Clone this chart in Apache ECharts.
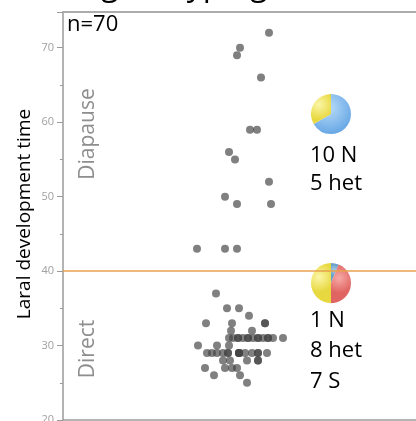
<!DOCTYPE html>
<html>
<head>
<meta charset="utf-8">
<script src="https://cdn.jsdelivr.net/npm/echarts@6/dist/echarts.min.js"></script>
<style>html,body{margin:0;padding:0;background:#fff}#c{width:416px;height:421px}</style>
</head>
<body>
<div id="c"></div>
<script>
// ---- data ----
var diapauseX = [206, 177, 174, 198, 187, 194, 166, 172, 206, 162, 174, 208, 134, 162, 174];
var diapauseY = [72, 70, 69, 66, 59, 59, 56, 55, 52, 50, 49, 49, 43, 43, 43];
var directX = [153, 164, 176, 186, 143, 169, 202, 202, 168, 189,
  166, 170, 175, 175, 180, 185, 185, 190, 195, 195, 200, 205, 205, 210, 220,
  135, 154, 166,
  144, 149, 154, 160, 165, 165, 176, 176, 176, 176, 182, 189, 195, 195, 204,
  160, 167, 184, 195, 195,
  142, 162, 169, 174,
  151, 177,
  184];
var directY = [37, 35, 35, 34, 33, 33, 33, 33, 32, 32,
  31, 31, 31, 31, 31, 31, 31, 31, 31, 31, 31, 31, 31, 31, 31,
  30, 30, 30,
  29, 29, 29, 29, 29, 29, 29, 29, 29, 29, 29, 29, 29, 29, 29,
  28, 28, 28, 28, 28,
  27, 27, 27, 27,
  26, 26,
  25];
var yTicks = [20, 30, 40, 50, 60, 70];
var threshold = 40;
var nTotal = 70;
var pie1Names = ['N', 'het'];
var pie1Values = [10, 5];
var pie2Names = ['N', 'S', 'het'];
var pie2Values = [1, 7, 8];

// ---- build ----
var pts = [];
diapauseX.forEach(function (x, i) { pts.push([x, diapauseY[i]]); });
directX.forEach(function (x, i) { pts.push([x, directY[i]]); });

function rg(c1, c2) {
  return new echarts.graphic.RadialGradient(0.4, 0.35, 0.75, [
    { offset: 0, color: c1 }, { offset: 1, color: c2 }]);
}
var colBlue = rg('#b8dbf8', '#62a4e4');
var colYellow = rg('#fbf6a8', '#e8d840');
var colRed = rg('#f6aaa7', '#e06562');
var colBlue2 = rg('#a8cce6', '#6a9fc8');

var FONT = '"Open Sans", sans-serif';
var chart = echarts.init(document.getElementById('c'), null, { renderer: 'canvas' });
chart.setOption({
  animation: false,
  backgroundColor: '#fff',
  grid: { left: 63, right: 0, top: 12, bottom: 1, containLabel: false, outerBoundsMode: 'none' },
  xAxis: [
    { type: 'value', min: 0, max: 353, position: 'bottom',
      axisLine: { show: true, lineStyle: { color: '#9a9a9a', width: 1.5 } },
      axisTick: { show: false }, axisLabel: { show: false }, splitLine: { show: false } },
    { type: 'value', min: 0, max: 1, position: 'top',
      axisLine: { show: true, onZero: false, lineStyle: { color: '#acacac', width: 2 } },
      axisTick: { show: false }, axisLabel: { show: false }, splitLine: { show: false } }
  ],
  yAxis: [
    { type: 'value', min: yTicks[0], max: 74.8, interval: 10, position: 'left',
      axisLine: { show: true, lineStyle: { color: '#9a9a9a', width: 1.5 } },
      axisTick: { show: true, length: 6, lineStyle: { color: '#9a9a9a' } },
      axisLabel: { color: '#a0a0a0', fontSize: 11, fontFamily: FONT, margin: 9,
        formatter: function (v) { return yTicks.indexOf(v) >= 0 ? String(v) : ''; } },
      splitLine: { show: false } },
    { type: 'value', min: yTicks[0], max: 74.8, interval: 5, position: 'left',
      axisLine: { show: false },
      axisTick: { show: true, length: 3, lineStyle: { color: '#9a9a9a' } },
      axisLabel: { show: false }, splitLine: { show: false } }
  ],
  series: [
    { type: 'scatter', xAxisIndex: 0, yAxisIndex: 0, data: pts, symbolSize: 8,
      itemStyle: { color: '#444444', opacity: 0.68 },
      silent: true,
      markLine: { silent: true, symbol: 'none', label: { show: false },
        lineStyle: { color: '#e8a24e', width: 1.5, type: 'solid' },
        data: [{ yAxis: threshold }] } },
    { type: 'pie', center: [331, 114], radius: 20, startAngle: 90, clockwise: true,
      label: { show: false }, labelLine: { show: false }, silent: true,
      itemStyle: { borderWidth: 0 },
      data: pie1Names.map(function (n, i) {
        return { name: n, value: pie1Values[i], itemStyle: { color: n === 'N' ? colBlue : colYellow } };
      }) },
    { type: 'pie', center: [331, 283], radius: 20, startAngle: 90, clockwise: true,
      label: { show: false }, labelLine: { show: false }, silent: true,
      itemStyle: { borderWidth: 0 },
      data: pie2Names.map(function (n, i) {
        return { name: n, value: pie2Values[i], itemStyle: { color: n === 'N' ? colBlue2 : (n === 'S' ? colRed : colYellow) } };
      }) }
  ],
  graphic: [
    { type: 'text', left: 101, top: -30, silent: true,
      style: { text: 'genotyping', fontSize: 32, fontFamily: FONT, fill: '#000' } },
    { type: 'text', left: 67, top: 14, silent: true,
      style: { text: 'n=' + nTotal, fontSize: 22, fontFamily: FONT, fill: '#000' } },
    { type: 'text', x: 25, y: 214, rotation: Math.PI / 2, silent: true,
      style: { text: 'Laral development time', fontSize: 19, fontFamily: FONT, fill: '#000', align: 'center', verticalAlign: 'middle' } },
    { type: 'text', x: 88, y: 134, rotation: Math.PI / 2, silent: true,
      style: { text: 'Diapause', fontSize: 21, fontFamily: FONT, fill: '#8e8e8e', align: 'center', verticalAlign: 'middle' } },
    { type: 'text', x: 88, y: 349, rotation: Math.PI / 2, silent: true,
      style: { text: 'Direct', fontSize: 21, fontFamily: FONT, fill: '#8e8e8e', align: 'center', verticalAlign: 'middle' } },
    { type: 'text', left: 310, top: 142, silent: true,
      style: { text: pie1Values[0] + ' ' + pie1Names[0] + '\n' + pie1Values[1] + ' ' + pie1Names[1],
        fontSize: 22, lineHeight: 28, fontFamily: FONT, fill: '#000' } },
    { type: 'text', left: 310, top: 305, silent: true,
      style: { text: pie2Values[0] + ' ' + pie2Names[0] + '\n' + pie2Values[2] + ' ' + pie2Names[2] + '\n' + pie2Values[1] + ' ' + pie2Names[1],
        fontSize: 22, lineHeight: 30.5, fontFamily: FONT, fill: '#000' } }
  ]
});
</script>
</body>
</html>
